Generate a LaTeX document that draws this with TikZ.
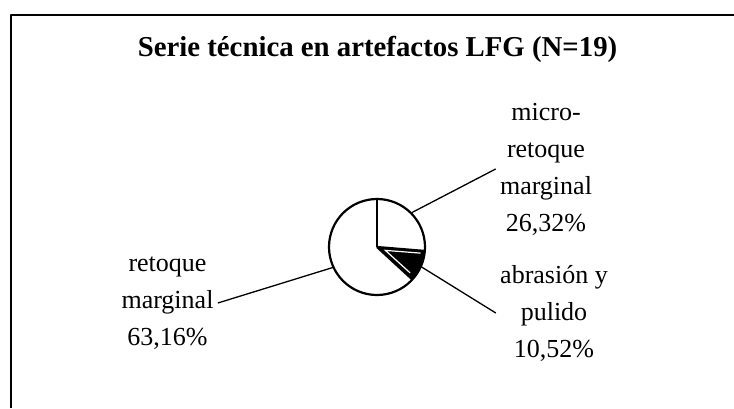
\documentclass[tikz,border=0pt]{standalone}
\usepackage{fontspec}
\setmainfont{Liberation Serif}
\usetikzlibrary{calc}
\tikzset{%
    Pline/.style={line width=1.1pt, line join=round},
    Pleader/.style={line width=0.65pt},
    Plabel/.style={align=center, inner sep=2pt, font=\fontsize{13}{18.5}\selectfont},
    Ptitle/.style={inner sep=0pt, font=\fontsize{14.4}{17}\selectfont\bfseries}
}

\begin{document}
\begin{tikzpicture}[x=0.5pt,y=0.5pt]
    \useasboundingbox (0,0) rectangle (734,-408);

    % frame, cut off at the right and at the bottom
    \draw [Pline] (11,-408) -- (11,-15) -- (734,-15);
    \node [Ptitle,anchor=base] (title) at (377.5,-56) {Serie técnica en artefactos LFG (N=19)};

    % pie centre and slice borders
    \path
        (377,-247) coordinate (Nc)
        ($(Nc)+(90:48)$) coordinate (Ntop)
        ($(Nc)+(-4.7:48)$) coordinate (Nm1)
        ($(Nc)+(-42.6:48)$) coordinate (Nm2);

    % dark slice
    \fill (Nc) -- (Nm1) arc[start angle=-4.7, end angle=-42.6, radius=48] -- cycle;
    \draw [white, line width=0.6pt]
        ($(Nc)+(-8:44)$) -- ($(Nc)+(-22:9)$) -- ($(Nc)+(-38:42)$);

    \draw [Pline] (Nc) circle[radius=48];
    \foreach \c in {Ntop,Nm1,Nm2}
        \draw [Pline] (Nc) -- (\c);

    % labels
    \node [Plabel] (lblMicro) at (546,-169) {micro-\\retoque\\marginal\\26,32\%};
    \node [Plabel] (lblAbr) at (554,-313) {abrasión y\\pulido\\10,52\%};
    \node [Plabel] (lblRet) at (167.5,-303) {retoque\\marginal\\63,16\%};

    % leader lines
    \path
        ($(Nc)+(45:48)$) coordinate (Rmicro)
        ($(Nc)+(-24:48)$) coordinate (Rabr)
        ($(Nc)+(205:48)$) coordinate (Rret);
    \draw [Pleader] (Rmicro) -- (lblMicro.west);
    \draw [Pleader] (Rabr) -- (lblAbr.west);
    \draw [Pleader] (Rret) -- (lblRet.east);
\end{tikzpicture}
\end{document}
